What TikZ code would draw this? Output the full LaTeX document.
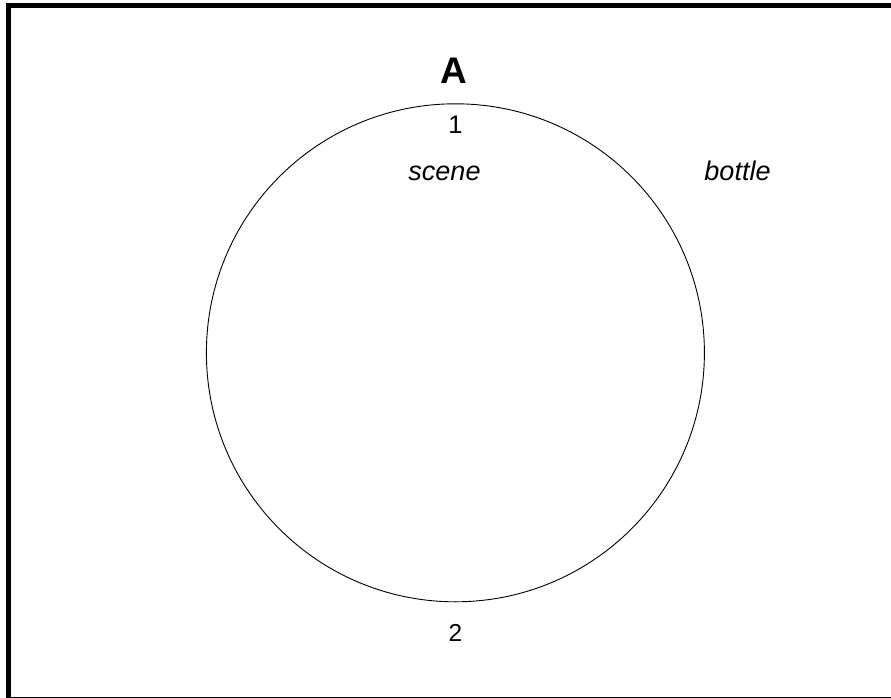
\documentclass[tikz,border=0pt]{standalone}
\usepackage{fontspec}
\setmainfont{Liberation Sans}
\usepackage{tikz}

\begin{document}
\begin{tikzpicture}[x=1pt,y=-1pt]
        \useasboundingbox (0,0) rectangle (891,698);
        % Frame (left and top heavy, bottom thin)
        \draw[line width=4.8pt] (8.5,698) -- (8.5,5.2) -- (891,5.2);
        \draw[line width=1.2pt] (8.5,697.2) -- (891,697.2);
        % Circle
        \coordinate (ctr) at (455.4,352.8);
        \draw[line width=0.9pt] (ctr) circle (249);
        % Labels
        \node[anchor=base,inner sep=0pt] (lblA) at (454,83.5) {\fontsize{37}{42}\selectfont\bfseries A};
        \node[anchor=base,inner sep=0pt] (one) at (455.5,133.3) {\fontsize{25.5}{29}\selectfont 1};
        \node[anchor=base,inner sep=0pt] (scene) at (444.5,180) {\fontsize{27}{31}\selectfont\itshape scene};
        \node[anchor=base,inner sep=0pt] (bottle) at (737.5,180) {\fontsize{27}{31}\selectfont\itshape bottle};
        \node[anchor=base,inner sep=0pt] (two) at (455.5,641.7) {\fontsize{24.5}{28}\selectfont 2};
      \end{tikzpicture}
\end{document}
